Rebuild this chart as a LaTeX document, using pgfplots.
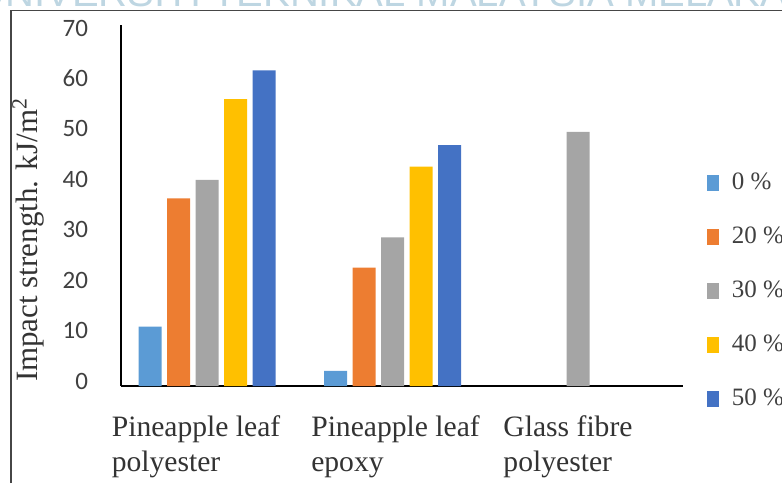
\documentclass[border=0pt]{standalone}
\usepackage{pgfplots}
\pgfplotsset{compat=1.18}
\usepackage{fontspec}
\setmainfont{Liberation Serif}
\newfontfamily\tickfont{Carlito}
\newfontfamily\markfont{Liberation Sans}

\definecolor{pct0}{HTML}{5B9BD5}
\definecolor{pct20}{HTML}{ED7D31}
\definecolor{pct30}{HTML}{A5A5A5}
\definecolor{pct40}{HTML}{FFC000}
\definecolor{pct50}{HTML}{4472C4}
\definecolor{wmark}{RGB}{190,214,226}
\definecolor{framegray}{RGB}{70,70,70}

\begin{document}
\begin{tikzpicture}
\useasboundingbox (0,0) rectangle (391pt,241.5pt);
% faint heading along the top edge, only its lower part shows
\begin{scope}
\clip (0pt,237.3pt) rectangle (391pt,241.5pt);
\node[anchor=base, inner sep=0pt, text=wmark, font=\markfont\fontsize{20}{24}\selectfont]
  at (191pt,238pt) {UNIVERSITI TEKNIKAL MALAYSIA MELAKA};
\end{scope}
% frame
\draw[line width=0.8pt, framegray] (5.5pt,0pt) -- (5.5pt,236.3pt) -- (391pt,236.3pt);
% y label
\node[rotate=90, inner sep=0pt, text=black!80, font=\fontsize{15.5}{18}\selectfont]
  at (14pt,121.5pt) {Impact strength. kJ/m\textsuperscript{2}};

\begin{axis}[
  scale only axis,
  width=281pt, height=180.5pt,
  at={(60.5pt,48.5pt)}, anchor=south west,
  xmin=-0.464, xmax=2.566,
  ymin=0, ymax=71.6,
  ytick={0,10,...,70},
  xtick={0,1,2},
  xticklabels={%
    {Pineapple leaf\hspace*{11pt}\\polyester},
    {\hspace*{3pt}Pineapple leaf\\\hspace*{3pt}epoxy},
    {Glass fibre\hspace*{10pt}\\polyester}},
  axis x line=bottom, axis y line=left,
  axis line style={-, line width=0.75pt, black},
  tick style={draw=none},
  /pgf/number format/assume math mode=true,
  yticklabel style={font=\tickfont\fontsize{12.5}{15}\selectfont, text=black!75, xshift=-10.8pt, yshift=2.5pt},
  xticklabel style={font=\fontsize{14.8}{17.5}\selectfont, align=left, text=black!80, yshift=-7pt},
  ybar=2.75pt, bar width=11.5pt,
  legend style={at={(1.0427,0.262)}, anchor=west, draw=none, fill=none,
    inner sep=0pt, outer sep=0pt, row sep=16pt, column sep=6pt,
    font=\fontsize{12.5}{15}\selectfont, text=black!75,
    nodes={inner sep=0.5pt, text height=8pt, text depth=2pt}},
  legend cell align=left,
  legend image code/.code={\fill[#1] (0pt,-4pt) rectangle (6pt,4pt);},
]
\addplot[fill=pct0, draw=none] coordinates {(0,11.8) (1,3.0)};
\addplot[fill=pct20, draw=none] coordinates {(0,37.2) (1,23.5)};
\addplot[fill=pct30, draw=none] coordinates {(0,40.9) (1,29.5) (2,50.4)};
\addplot[fill=pct40, draw=none] coordinates {(0,56.9) (1,43.5)};
\addplot[fill=pct50, draw=none] coordinates {(0,62.6) (1,47.8)};
\legend{0 \%, 20 \%, 30 \%, 40 \%, 50 \%}
\end{axis}
\end{tikzpicture}
\end{document}
